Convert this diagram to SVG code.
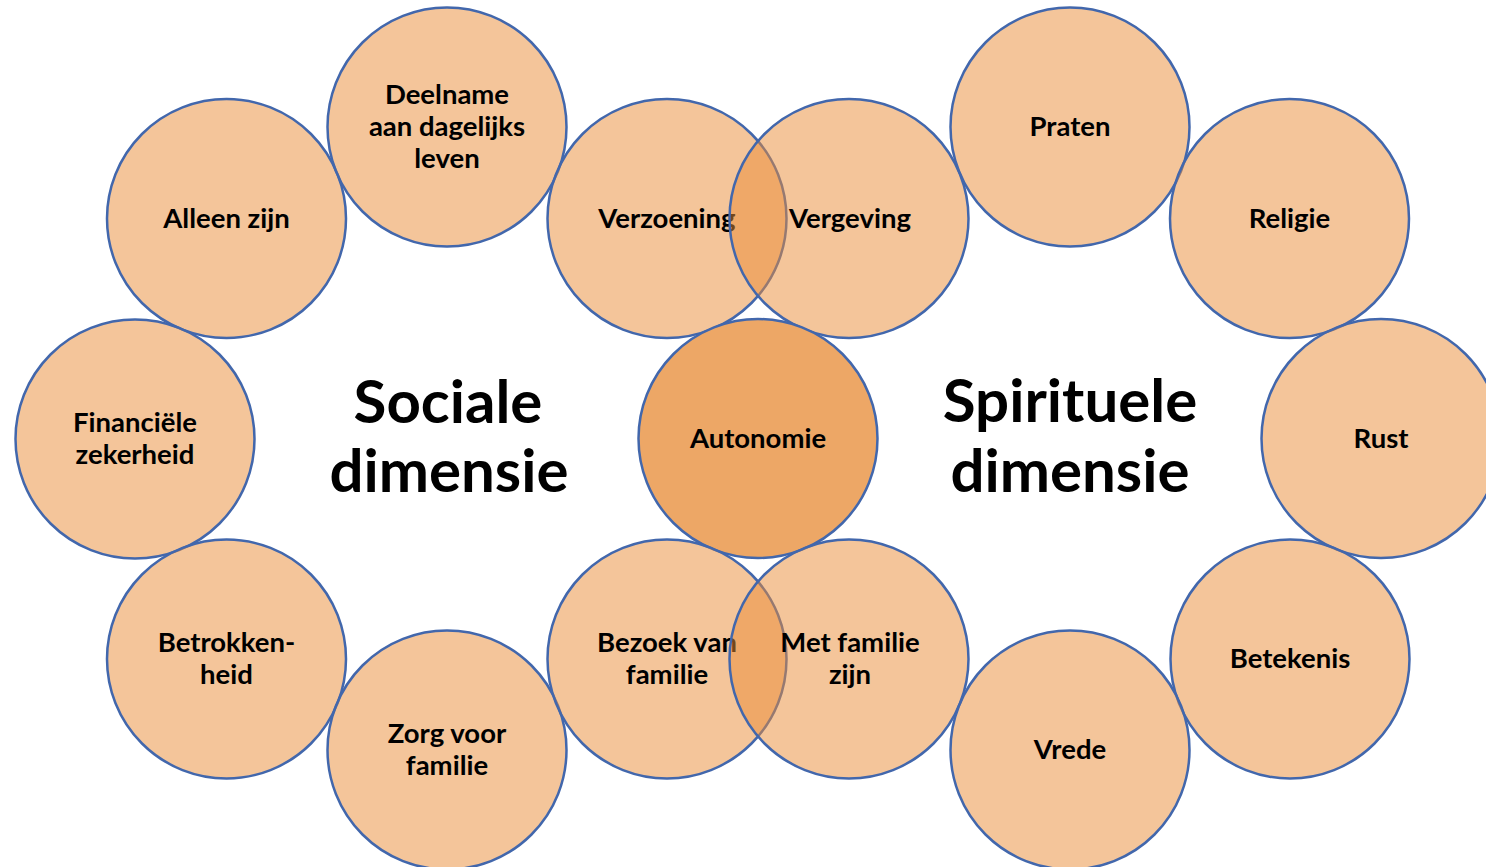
<svg xmlns="http://www.w3.org/2000/svg" width="1486" height="867" viewBox="0 0 1486 867">
<style>
.n{fill:rgb(233,139,53);fill-opacity:0.5;stroke:#4267AC;stroke-width:2.5}
.c{fill:#EDA766;stroke:#4267AC;stroke-width:2.5}
.t{font-family:Lato,"Open Sans","Liberation Sans",sans-serif;font-weight:700;font-size:27.5px;fill:#000;text-anchor:middle}
.h{font-family:Lato,"Open Sans","Liberation Sans",sans-serif;font-weight:700;font-size:60px;fill:#000;text-anchor:middle}
</style>
<rect width="1486" height="867" fill="#fff"/>
<g id="title-sociale"><text class="h" x="448" y="423">Sociale</text><text class="h" x="449" y="492">dimensie</text></g>
<g id="title-spirituele"><text class="h" x="1070" y="422">Spirituele</text><text class="h" x="1070" y="492">dimensie</text></g>
<g id="alleen-zijn"><circle class="n" cx="226.5" cy="218.5" r="119.5"/><text class="t" x="226.5" y="227.5">Alleen zijn</text></g>
<g id="deelname"><circle class="n" cx="447" cy="127" r="119.5"/><text class="t" x="447" y="104">Deelname</text><text class="t" x="447" y="136">aan dagelijks</text><text class="t" x="447" y="167.5">leven</text></g>
<g id="financiele-zekerheid"><circle class="n" cx="135" cy="439" r="119.5"/><text class="t" x="135" y="431.5">Financiële</text><text class="t" x="135" y="463.5">zekerheid</text></g>
<g id="betrokkenheid"><circle class="n" cx="226.5" cy="659" r="119.5"/><text class="t" x="226.5" y="652">Betrokken-</text><text class="t" x="226.5" y="684">heid</text></g>
<g id="zorg-voor-familie"><circle class="n" cx="447" cy="750" r="119.5"/><text class="t" x="447" y="743">Zorg voor</text><text class="t" x="447" y="775">familie</text></g>
<g id="verzoening"><circle class="n" cx="667" cy="218.5" r="119.5"/><text class="t" x="667" y="227.5">Verzoening</text></g>
<g id="vergeving"><circle class="n" cx="849" cy="218.5" r="119.5"/><text class="t" x="850" y="227.5">Vergeving</text></g>
<g id="autonomie"><circle class="c" cx="758" cy="438.5" r="119.5"/><text class="t" x="758" y="447.5">Autonomie</text></g>
<g id="bezoek-van-familie"><circle class="n" cx="667" cy="659" r="119.5"/><text class="t" x="667" y="652">Bezoek van</text><text class="t" x="667" y="684">familie</text></g>
<g id="met-familie-zijn"><circle class="n" cx="849" cy="659" r="119.5"/><text class="t" x="850" y="652">Met familie</text><text class="t" x="850" y="684">zijn</text></g>
<g id="praten"><circle class="n" cx="1070" cy="127" r="119.5"/><text class="t" x="1070" y="136">Praten</text></g>
<g id="religie"><circle class="n" cx="1289.5" cy="218.5" r="119.5"/><text class="t" x="1289.5" y="227.5">Religie</text></g>
<g id="rust"><circle class="n" cx="1381" cy="438.5" r="119.5"/><text class="t" x="1381" y="447.5">Rust</text></g>
<g id="betekenis"><circle class="n" cx="1290" cy="659" r="119.5"/><text class="t" x="1290" y="667.5">Betekenis</text></g>
<g id="vrede"><circle class="n" cx="1070" cy="750" r="119.5"/><text class="t" x="1070" y="758.5">Vrede</text></g>
<g id="connectors"/>
</svg>
